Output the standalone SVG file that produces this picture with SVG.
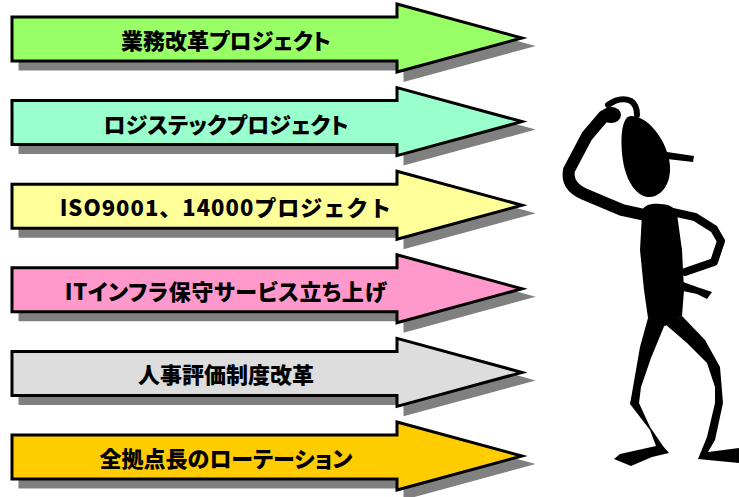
<svg xmlns="http://www.w3.org/2000/svg" xmlns:xlink="http://www.w3.org/1999/xlink" width="739" height="497" viewBox="0 0 739 497">
  <style>
    .shadow { fill: #808080; stroke: #808080; stroke-width: 3; }
    .arrow { stroke: #000; stroke-width: 3; stroke-linejoin: miter; stroke-miterlimit: 10; }
    .label { font-family: "Noto Sans CJK JP", "Noto Sans", sans-serif; font-weight: 900; font-size: 22px; fill: #000; text-anchor: middle; dominant-baseline: central; font-feature-settings: "palt"; }
    .wide { font-feature-settings: normal; letter-spacing: 1px; }
    .fig { fill: #000; }
    .limb { fill: none; stroke: #000; stroke-linecap: round; stroke-linejoin: round; }
  </style>
  <defs>
    <!-- block arrow centred on y = 0 -->
    <path id="arrow" d="M12,-22 L397,-22 L397,-35 L522,-1 L397,33 L397,22 L12,22 Z"/>
  </defs>
  <rect width="739" height="497" fill="#fff"/>

  <g id="arrow-1" transform="translate(0,39)">
    <use xlink:href="#arrow" class="shadow" transform="translate(8,8)"/>
    <use xlink:href="#arrow" class="arrow" fill="#99FF66"/>
    <text class="label" x="226" y="0">業務改革プロジェクト</text>
  </g>

  <g id="arrow-2" transform="translate(0,122.6)">
    <use xlink:href="#arrow" class="shadow" transform="translate(8,8)"/>
    <use xlink:href="#arrow" class="arrow" fill="#99FFCC"/>
    <text class="label" x="226" y="0">ロジステックプロジェクト</text>
  </g>

  <g id="arrow-3" transform="translate(0,206.2)">
    <use xlink:href="#arrow" class="shadow" transform="translate(8,8)"/>
    <use xlink:href="#arrow" class="arrow" fill="#FFFF99"/>
    <text class="label wide" x="226" y="0">ISO9001、14000プロジェクト</text>
  </g>

  <g id="arrow-4" transform="translate(0,289.8)">
    <use xlink:href="#arrow" class="shadow" transform="translate(8,8)"/>
    <use xlink:href="#arrow" class="arrow" fill="#FF99CC"/>
    <text class="label" x="226" y="0" letter-spacing="0.6">ITインフラ保守サービス立ち上げ</text>
  </g>

  <g id="arrow-5" transform="translate(0,373.4)">
    <use xlink:href="#arrow" class="shadow" transform="translate(8,8)"/>
    <use xlink:href="#arrow" class="arrow" fill="#DDDDDD"/>
    <text class="label" x="226" y="0">人事評価制度改革</text>
  </g>

  <g id="arrow-6" transform="translate(0,457)">
    <use xlink:href="#arrow" class="shadow" transform="translate(8,8)"/>
    <use xlink:href="#arrow" class="arrow" fill="#FFCC00"/>
    <text class="label" x="226" y="0">全拠点長のローテーション</text>
  </g>

  <!-- thinking figure scratching its head -->
  <g id="figure">
    <!-- head and nose -->
    <path class="fig" d="M631,116 C646,116 662,134 668,155 C673,172 669,190 655,196 C642,201 630,188 625,170 C620,152 619,116 631,116 Z"/>
    <path class="fig" d="M667,152 L694,156 L693,162 L667,159 Z"/>
    <!-- raised arm, hand and finger -->
    <path class="limb" stroke-width="12" d="M645,215 L622,210 L584,194 Q566,186 569,170 L587,136 L604,116"/>
    <ellipse class="fig" cx="611" cy="115" rx="10" ry="8"/>
    <path class="limb" stroke-width="6" d="M608,105 Q620,96 631,101 Q637,105 637,115"/>
    <!-- torso -->
    <path class="fig" d="M642,214 C641,205 652,203 660,204 C670,204 675,208 677,214 L682,250 L684,290 L682,316 L672,322 L665,326 L655,322 L648,318 L644,290 L640,250 Z"/>
    <!-- arm on hip -->
    <path class="limb" stroke-width="8" d="M668,211 L695,217 L714,229 L721,241 L714,262 L685,272"/>
    <path class="fig" d="M683,282 L697,287 L712,292 L707,299 L697,294 L683,291 Z"/>
    <!-- legs and feet -->
    <path class="fig" d="M648,318 L640,347 L632,393 L630,404 L650,430 L656,446 L620,454 L614,459 L631,466 L652,457 L669,453 L663,446 L650,427 L639,403 L641,387 L651,358 L665,324 Z"/>
    <path class="fig" d="M665,324 L687,343 L707,363 L715,387 L715,403 L707,437 L698,459 L739,463 L739,448 L708,452 L715,440 L723,403 L720,367 L705,340 L682,316 Z"/>
  </g>
</svg>
